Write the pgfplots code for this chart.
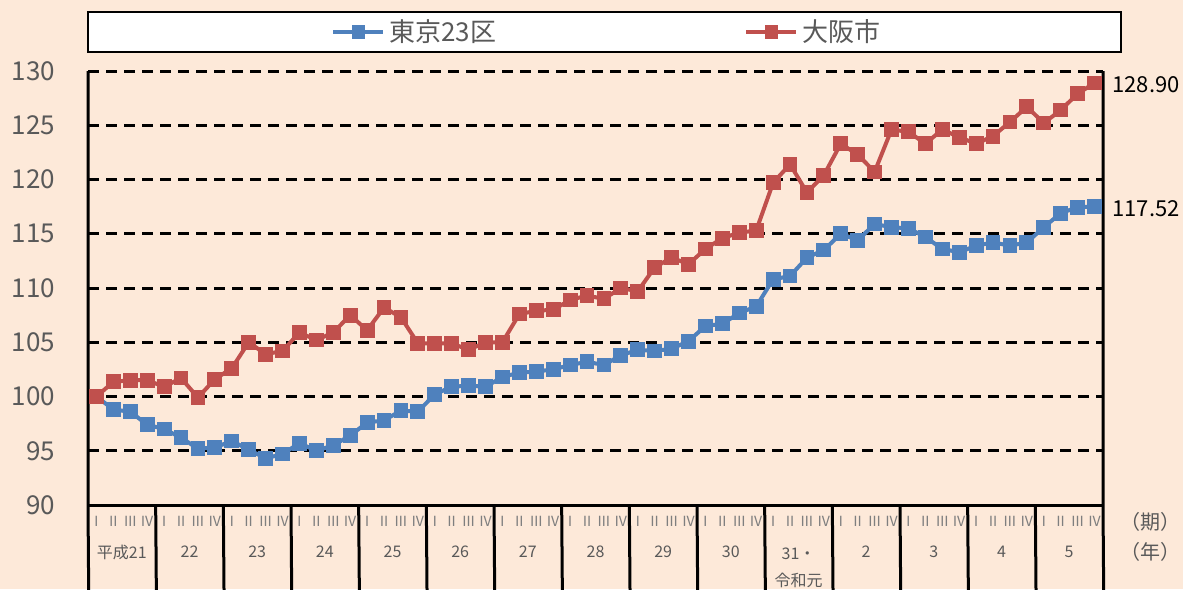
\documentclass[border=0pt]{standalone}
\usepackage{fontspec}
\setmainfont{Noto Sans CJK JP}
\usepackage{pgfplots}
\pgfplotsset{compat=1.18}
\definecolor{bg}{HTML}{FDE9D9}
\definecolor{tblue}{HTML}{4F81BD}
\definecolor{ored}{HTML}{C0504D}
\definecolor{txt}{HTML}{595959}
\definecolor{rom}{HTML}{7F7F7F}

\pgfplotstableread{
x y
0 100.0
1 98.8
2 98.6
3 97.4
4 97.0
5 96.2
6 95.2
7 95.3
8 95.9
9 95.1
10 94.3
11 94.7
12 95.7
13 95.0
14 95.5
15 96.4
16 97.6
17 97.8
18 98.7
19 98.6
20 100.2
21 100.9
22 101.0
23 100.9
24 101.8
25 102.2
26 102.3
27 102.5
28 102.9
29 103.2
30 102.9
31 103.8
32 104.3
33 104.2
34 104.4
35 105.1
36 106.5
37 106.7
38 107.7
39 108.3
40 110.8
41 111.1
42 112.8
43 113.5
44 115.0
45 114.4
46 115.9
47 115.6
48 115.5
49 114.7
50 113.6
51 113.3
52 113.9
53 114.2
54 113.9
55 114.2
56 115.6
57 116.9
58 117.45
59 117.52
}\tokyo

\pgfplotstableread{
x y
0 100.0
1 101.35
2 101.5
3 101.5
4 100.9
5 101.7
6 99.9
7 101.6
8 102.6
9 105.0
10 103.9
11 104.2
12 105.9
13 105.2
14 105.9
15 107.5
16 106.1
17 108.2
18 107.3
19 104.9
20 104.9
21 104.9
22 104.3
23 105.0
24 105.0
25 107.6
26 107.9
27 108.0
28 108.9
29 109.3
30 109.0
31 110.0
32 109.7
33 111.9
34 112.8
35 112.2
36 113.6
37 114.6
38 115.1
39 115.3
40 119.7
41 121.4
42 118.8
43 120.4
44 123.3
45 122.3
46 120.7
47 124.6
48 124.4
49 123.3
50 124.6
51 123.9
52 123.3
53 124.0
54 125.3
55 126.7
56 125.2
57 126.4
58 127.9
59 128.90
}\osaka

\begin{document}
\begin{tikzpicture}
\fill[bg] (0,0) rectangle (591.5pt,294.5pt);
\useasboundingbox (0,0) rectangle (591.5pt,294.5pt);
\draw[line width=1pt, fill=white] (44pt,268.5pt) rectangle (560.5pt,288.5pt);
\begin{axis}[
  scale only axis, width=507.5pt, height=217pt,
  at={(44pt,42pt)}, anchor=south west,
  xmin=-0.5, xmax=59.5, ymin=90, ymax=130,
  axis line style={draw=none},
  major tick length=0pt,
  ytick={95,100,...,130},
  extra y ticks={90},
  extra y tick style={grid=none},
  ymajorgrids,
  grid style={black, line width=1.5pt, dash pattern=on 5.5pt off 3.5pt},
  xtick={0,...,59},
  xticklabels={Ⅰ,Ⅱ,Ⅲ,Ⅳ,Ⅰ,Ⅱ,Ⅲ,Ⅳ,Ⅰ,Ⅱ,Ⅲ,Ⅳ,Ⅰ,Ⅱ,Ⅲ,Ⅳ,Ⅰ,Ⅱ,Ⅲ,Ⅳ,Ⅰ,Ⅱ,Ⅲ,Ⅳ,Ⅰ,Ⅱ,Ⅲ,Ⅳ,Ⅰ,Ⅱ,Ⅲ,Ⅳ,Ⅰ,Ⅱ,Ⅲ,Ⅳ,Ⅰ,Ⅱ,Ⅲ,Ⅳ,Ⅰ,Ⅱ,Ⅲ,Ⅳ,Ⅰ,Ⅱ,Ⅲ,Ⅳ,Ⅰ,Ⅱ,Ⅲ,Ⅳ,Ⅰ,Ⅱ,Ⅲ,Ⅳ,Ⅰ,Ⅱ,Ⅲ,Ⅳ},
  xticklabel style={font=\fontsize{7}{8}\selectfont, text=rom, yshift=-2pt},
  yticklabel style={font=\fontsize{13}{15}\selectfont, text=txt, xshift=-13pt},
  /pgf/number format/assume math mode=true,
  clip=false,
  legend style={at={(0.512,1.09)}, anchor=center, draw=none, fill=none,
    legend columns=2, font=\fontsize{13}{15}\selectfont, text=txt,
    /tikz/every even column/.append style={column sep=122pt}},
  legend image code/.code={\draw[mark repeat=2,mark phase=2,mark size=2.3pt] plot coordinates {(0pt,0pt) (12.5pt,0pt) (25pt,0pt)};},
]
% table frame
\draw[black, line width=1.5pt] (axis cs:-0.5,90) -- (axis cs:59.5,90);
\draw[black, line width=1.5pt] (axis cs:-0.5,130) -- (axis cs:-0.5,90) -- ++(0,-42pt);
\draw[black, line width=1.5pt] (axis cs:59.5,130) -- (axis cs:59.5,90) -- ++(0,-42pt);
\pgfplotsinvokeforeach{3.5,7.5,11.5,15.5,19.5,23.5,27.5,31.5,35.5,39.5,43.5,47.5,51.5,55.5}{
  \draw[black, line width=1.5pt] (axis cs:#1,90) -- ++(0,-42pt);
}
\addplot[tblue, line width=2pt, mark=square*, mark size=2.7pt, mark options={solid}] table[x=x,y=y] {\tokyo};
\addlegendentry{東京23区}
\addplot[ored, line width=2pt, mark=square*, mark size=2.7pt, mark options={solid}] table[x=x,y=y] {\osaka};
\addlegendentry{大阪市}
% year labels
\begin{scope}[every node/.style={font=\fontsize{8}{9}\selectfont, text=txt}]
\node at (axis cs:1.5,90) [yshift=-23.5pt] {平成21};
\node at (axis cs:5.5,90) [yshift=-23.5pt] {22};
\node at (axis cs:9.5,90) [yshift=-23.5pt] {23};
\node at (axis cs:13.5,90) [yshift=-23.5pt] {24};
\node at (axis cs:17.5,90) [yshift=-23.5pt] {25};
\node at (axis cs:21.5,90) [yshift=-23.5pt] {26};
\node at (axis cs:25.5,90) [yshift=-23.5pt] {27};
\node at (axis cs:29.5,90) [yshift=-23.5pt] {28};
\node at (axis cs:33.5,90) [yshift=-23.5pt] {29};
\node at (axis cs:37.5,90) [yshift=-23.5pt] {30};
\node at (axis cs:41.5,90) [yshift=-24.5pt] {31・};
\node at (axis cs:41.5,90) [yshift=-37.5pt] {令和元};
\node at (axis cs:45.5,90) [yshift=-23.5pt] {2};
\node at (axis cs:49.5,90) [yshift=-23.5pt] {3};
\node at (axis cs:53.5,90) [yshift=-23.5pt] {4};
\node at (axis cs:57.5,90) [yshift=-23.5pt] {5};
\end{scope}
\node[font=\fontsize{10}{11}\selectfont, text=txt] at (axis cs:59.5,90) [xshift=23.5pt, yshift=-8.5pt] {（期）};
\node[font=\fontsize{10}{11}\selectfont, text=txt] at (axis cs:59.5,90) [xshift=23.5pt, yshift=-23.5pt] {（年）};
\node[anchor=west, inner sep=1pt, font=\fontsize{11}{13}\selectfont] at (axis cs:59.5,128.9) [xshift=3.5pt, yshift=-1pt] {128.90};
\node[anchor=west, inner sep=1pt, font=\fontsize{11}{13}\selectfont] at (axis cs:59.5,117.52) [xshift=3.5pt, yshift=-1pt] {117.52};
\end{axis}
\end{tikzpicture}
\end{document}
